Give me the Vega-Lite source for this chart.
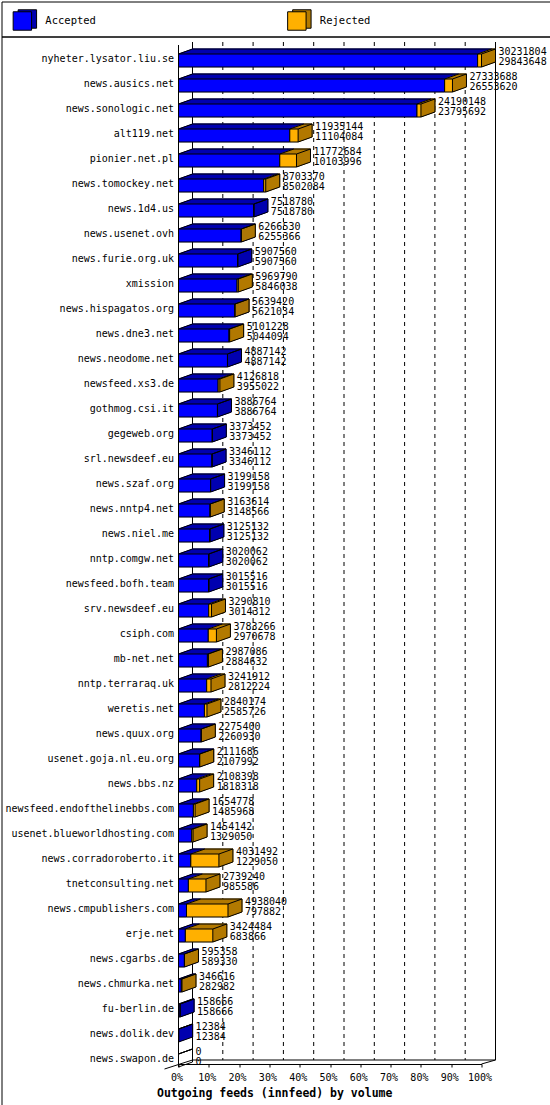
{
  "$schema": "https://vega.github.io/schema/vega-lite/v6.json",
  "background": "white",
  "padding": 0.5,
  "spacing": 0,
  "bounds": "flush",
  "config": {
    "font": "DejaVu Sans Mono",
    "view": {"stroke": "black", "strokeWidth": 1},
    "axis": {"labelFont": "DejaVu Sans Mono", "labelFontSize": 10, "labelColor": "black", "grid": false}
  },
  "vconcat": [
    {
      "width": 549,
      "height": 35,
      "data": {"values": [{"status": "Accepted"}, {"status": "Rejected"}]},
      "encoding": {
        "x": {"field": "status", "type": "nominal", "scale": {"type": "point", "padding": 0.5, "align": 0.076}, "axis": null}
      },
      "layer": [
        {
          "mark": {"type": "point", "shape": "square", "filled": true, "size": 340, "stroke": "black", "strokeWidth": 1, "opacity": 1, "xOffset": 5, "yOffset": 0},
          "encoding": {
            "fill": {"field": "status", "type": "nominal", "scale": {"domain": ["Accepted", "Rejected"], "range": ["#0000b0", "#b37a00"]}, "legend": null}
          }
        },
        {
          "mark": {"type": "point", "shape": "square", "filled": true, "size": 340, "stroke": "black", "strokeWidth": 1, "opacity": 1, "yOffset": 2},
          "encoding": {
            "color": {"field": "status", "type": "nominal", "scale": {"domain": ["Accepted", "Rejected"], "range": ["#0000ff", "#ffb000"]}, "legend": null}
          }
        },
        {
          "mark": {"type": "text", "align": "left", "dx": 23, "dy": 2, "fontSize": 10.5, "font": "DejaVu Sans Mono", "color": "black"},
          "encoding": {"text": {"field": "status"}}
        }
      ]
    },
    {
      "width": 549,
      "height": 1069,
      "data": {"values": [
        {"host": "nyheter.lysator.liu.se", "offered": 30231804, "accepted": 29843648},
        {"host": "news.ausics.net", "offered": 27333688, "accepted": 26553620},
        {"host": "news.sonologic.net", "offered": 24190148, "accepted": 23795692},
        {"host": "alt119.net", "offered": 11935144, "accepted": 11104084},
        {"host": "pionier.net.pl", "offered": 11772684, "accepted": 10103996},
        {"host": "news.tomockey.net", "offered": 8703370, "accepted": 8502084},
        {"host": "news.1d4.us", "offered": 7518780, "accepted": 7518780},
        {"host": "news.usenet.ovh", "offered": 6266530, "accepted": 6255366},
        {"host": "news.furie.org.uk", "offered": 5907560, "accepted": 5907560},
        {"host": "xmission", "offered": 5969790, "accepted": 5846038},
        {"host": "news.hispagatos.org", "offered": 5639420, "accepted": 5621034},
        {"host": "news.dne3.net", "offered": 5101228, "accepted": 5044094},
        {"host": "news.neodome.net", "offered": 4887142, "accepted": 4887142},
        {"host": "newsfeed.xs3.de", "offered": 4126818, "accepted": 3955022},
        {"host": "gothmog.csi.it", "offered": 3886764, "accepted": 3886764},
        {"host": "gegeweb.org", "offered": 3373452, "accepted": 3373452},
        {"host": "srl.newsdeef.eu", "offered": 3346112, "accepted": 3346112},
        {"host": "news.szaf.org", "offered": 3199158, "accepted": 3199158},
        {"host": "news.nntp4.net", "offered": 3163614, "accepted": 3148566},
        {"host": "news.niel.me", "offered": 3125132, "accepted": 3125132},
        {"host": "nntp.comgw.net", "offered": 3020062, "accepted": 3020062},
        {"host": "newsfeed.bofh.team", "offered": 3015516, "accepted": 3015516},
        {"host": "srv.newsdeef.eu", "offered": 3290810, "accepted": 3014312},
        {"host": "csiph.com", "offered": 3783266, "accepted": 2970678},
        {"host": "mb-net.net", "offered": 2987086, "accepted": 2884632},
        {"host": "nntp.terraraq.uk", "offered": 3241912, "accepted": 2812224},
        {"host": "weretis.net", "offered": 2840174, "accepted": 2585726},
        {"host": "news.quux.org", "offered": 2275400, "accepted": 2260930},
        {"host": "usenet.goja.nl.eu.org", "offered": 2111686, "accepted": 2107992},
        {"host": "news.bbs.nz", "offered": 2108398, "accepted": 1818318},
        {"host": "newsfeed.endofthelinebbs.com", "offered": 1654778, "accepted": 1485968},
        {"host": "usenet.blueworldhosting.com", "offered": 1454142, "accepted": 1329050},
        {"host": "news.corradoroberto.it", "offered": 4031492, "accepted": 1229050},
        {"host": "tnetconsulting.net", "offered": 2739240, "accepted": 985586},
        {"host": "news.cmpublishers.com", "offered": 4938040, "accepted": 797882},
        {"host": "erje.net", "offered": 3424484, "accepted": 683866},
        {"host": "news.cgarbs.de", "offered": 595358, "accepted": 589330},
        {"host": "news.chmurka.net", "offered": 346616, "accepted": 282982},
        {"host": "fu-berlin.de", "offered": 158666, "accepted": 158666},
        {"host": "news.dolik.dev", "offered": 12384, "accepted": 12384},
        {"host": "news.swapon.de", "offered": 0, "accepted": 0}
      ]},
      "resolve": {"scale": {"x": "independent"}},
      "encoding": {
        "y": {
          "field": "host", "type": "nominal", "sort": null,
          "scale": {
            "domain": ["nyheter.lysator.liu.se", "news.ausics.net", "news.sonologic.net", "alt119.net", "pionier.net.pl", "news.tomockey.net", "news.1d4.us", "news.usenet.ovh", "news.furie.org.uk", "xmission", "news.hispagatos.org", "news.dne3.net", "news.neodome.net", "newsfeed.xs3.de", "gothmog.csi.it", "gegeweb.org", "srl.newsdeef.eu", "news.szaf.org", "news.nntp4.net", "news.niel.me", "nntp.comgw.net", "newsfeed.bofh.team", "srv.newsdeef.eu", "csiph.com", "mb-net.net", "nntp.terraraq.uk", "weretis.net", "news.quux.org", "usenet.goja.nl.eu.org", "news.bbs.nz", "newsfeed.endofthelinebbs.com", "usenet.blueworldhosting.com", "news.corradoroberto.it", "tnetconsulting.net", "news.cmpublishers.com", "erje.net", "news.cgarbs.de", "news.chmurka.net", "fu-berlin.de", "news.dolik.dev", "news.swapon.de"],
            "paddingInner": 0.24, "paddingOuter": 1, "align": 0.29
          },
          "axis": {"orient": "left", "offset": -177, "domain": false, "ticks": false, "labelPadding": 5, "labelOffset": -2, "labelLimit": 250, "title": null}
        }
      },
      "layer": [
        {
          "data": {"values": [{"pct": 0}, {"pct": 10}, {"pct": 20}, {"pct": 30}, {"pct": 40}, {"pct": 50}, {"pct": 60}, {"pct": 70}, {"pct": 80}, {"pct": 90}, {"pct": 100}]},
          "encoding": {
            "x": {
              "field": "pct", "type": "quantitative",
              "scale": {"domain": [0, 100], "range": [177, 480]},
              "axis": {
                "orient": "bottom", "offset": -41.5, "values": [0, 10, 20, 30, 40, 50, 60, 70, 80, 90, 100],
                "labelExpr": "datum.value + '%'", "labelOffset": -2, "labelPadding": 5, "labelOverlap": false, "labelFlush": false,
                "domainColor": "black", "tickColor": "black", "tickSize": 3,
                "title": "Outgoing feeds (innfeed) by volume", "titleFont": "DejaVu Sans Mono", "titleFontWeight": "bold",
                "titleFontSize": 11.5, "titleColor": "black", "titleAlign": "left", "titleBaseline": "middle",
                "titleX": 155, "titleY": 29, "titleAngle": 0
              }
            }
          },
          "layer": [
            {
              "transform": [{"filter": "datum.pct > 0 && datum.pct < 100"}],
              "mark": {"type": "rule", "color": "black", "strokeDash": [4, 4], "xOffset": 14, "yOffset": -18.5, "y2Offset": -0.5},
              "encoding": {
                "y": {"datum": "nyheter.lysator.liu.se", "type": "nominal"},
                "y2": {"datum": "news.swapon.de"}
              }
            },
            {
              "transform": [{"filter": "datum.pct == 0 || datum.pct == 100"}],
              "mark": {"type": "rule", "color": "black", "xOffset": 14, "yOffset": -18.5, "y2Offset": -0.5},
              "encoding": {
                "y": {"datum": "nyheter.lysator.liu.se", "type": "nominal"},
                "y2": {"datum": "news.swapon.de"}
              }
            },
            {
              "transform": [{"filter": "datum.pct == 0"}],
              "mark": {"type": "rule", "color": "black", "xOffset": 14, "x2Offset": 14, "yOffset": -0.5},
              "encoding": {
                "x2": {"datum": 100},
                "y": {"datum": "news.swapon.de", "type": "nominal"}
              }
            },
            {
              "transform": [{"filter": "datum.pct == 0"}],
              "mark": {"type": "rule", "color": "black", "xOffset": -14, "x2Offset": 14, "yOffset": 8.5, "y2Offset": -0.5},
              "encoding": {
                "x2": {"field": "pct"},
                "y": {"datum": "news.swapon.de", "type": "nominal"},
                "y2": {"datum": "news.swapon.de"}
              }
            },
            {
              "transform": [{"filter": "datum.pct == 100"}],
              "mark": {"type": "rule", "color": "black", "xOffset": 0, "x2Offset": 14, "yOffset": 3.5, "y2Offset": -0.5},
              "encoding": {
                "x2": {"field": "pct"},
                "y": {"datum": "news.swapon.de", "type": "nominal"},
                "y2": {"datum": "news.swapon.de"}
              }
            },
            {
              "transform": [{"filter": "datum.pct == 0"}],
              "mark": {"type": "rule", "color": "black", "yOffset": -15.5, "y2Offset": 3.5},
              "encoding": {
                "y": {"datum": "nyheter.lysator.liu.se", "type": "nominal"},
                "y2": {"datum": "news.swapon.de"}
              }
            }
          ]
        },
        {
          "encoding": {
            "x": {"field": "accepted", "type": "quantitative", "scale": {"domain": [0, 30231804], "range": [177, 480]}, "axis": null}
          },
          "layer": [
            {
              "encoding": {"strokeWidth": {"condition": {"test": "datum.accepted > 0", "value": 1}, "value": 0}},
              "layer": [
                {"mark": {"type": "bar", "size": 13, "fill": "#0000b0", "stroke": "#0000b0", "xOffset": 14, "x2Offset": 14, "yOffset": -5}},
                {"mark": {"type": "bar", "size": 13, "fill": "#0000b0", "stroke": "#0000b0", "xOffset": 13, "x2Offset": 13, "yOffset": -4.64}},
                {"mark": {"type": "bar", "size": 13, "fill": "#0000b0", "stroke": "#0000b0", "xOffset": 12, "x2Offset": 12, "yOffset": -4.29}},
                {"mark": {"type": "bar", "size": 13, "fill": "#0000b0", "stroke": "#0000b0", "xOffset": 11, "x2Offset": 11, "yOffset": -3.93}},
                {"mark": {"type": "bar", "size": 13, "fill": "#0000b0", "stroke": "#0000b0", "xOffset": 10, "x2Offset": 10, "yOffset": -3.57}},
                {"mark": {"type": "bar", "size": 13, "fill": "#0000b0", "stroke": "#0000b0", "xOffset": 9, "x2Offset": 9, "yOffset": -3.21}},
                {"mark": {"type": "bar", "size": 13, "fill": "#0000b0", "stroke": "#0000b0", "xOffset": 8, "x2Offset": 8, "yOffset": -2.86}},
                {"mark": {"type": "bar", "size": 13, "fill": "#0000b0", "stroke": "#0000b0", "xOffset": 7, "x2Offset": 7, "yOffset": -2.5}},
                {"mark": {"type": "bar", "size": 13, "fill": "#0000b0", "stroke": "#0000b0", "xOffset": 6, "x2Offset": 6, "yOffset": -2.14}},
                {"mark": {"type": "bar", "size": 13, "fill": "#0000b0", "stroke": "#0000b0", "xOffset": 5, "x2Offset": 5, "yOffset": -1.79}},
                {"mark": {"type": "bar", "size": 13, "fill": "#0000b0", "stroke": "#0000b0", "xOffset": 4, "x2Offset": 4, "yOffset": -1.43}},
                {"mark": {"type": "bar", "size": 13, "fill": "#0000b0", "stroke": "#0000b0", "xOffset": 3, "x2Offset": 3, "yOffset": -1.07}},
                {"mark": {"type": "bar", "size": 13, "fill": "#0000b0", "stroke": "#0000b0", "xOffset": 2, "x2Offset": 2, "yOffset": -0.71}},
                {"mark": {"type": "bar", "size": 13, "fill": "#0000b0", "stroke": "#0000b0", "xOffset": 1, "x2Offset": 1, "yOffset": -0.36}}
              ]
            },
            {"mark": {"type": "bar", "size": 13, "fill": "#0000ff", "stroke": "black", "strokeWidth": 1}},
            {
              "encoding": {
                "x2": {"field": "offered"},
                "strokeWidth": {"condition": {"test": "datum.offered > datum.accepted", "value": 1}, "value": 0}
              },
              "layer": [
                {"mark": {"type": "bar", "size": 13, "fill": "#b37a00", "stroke": "#b37a00", "xOffset": 14, "x2Offset": 14, "yOffset": -5}},
                {"mark": {"type": "bar", "size": 13, "fill": "#b37a00", "stroke": "#b37a00", "xOffset": 13, "x2Offset": 13, "yOffset": -4.64}},
                {"mark": {"type": "bar", "size": 13, "fill": "#b37a00", "stroke": "#b37a00", "xOffset": 12, "x2Offset": 12, "yOffset": -4.29}},
                {"mark": {"type": "bar", "size": 13, "fill": "#b37a00", "stroke": "#b37a00", "xOffset": 11, "x2Offset": 11, "yOffset": -3.93}},
                {"mark": {"type": "bar", "size": 13, "fill": "#b37a00", "stroke": "#b37a00", "xOffset": 10, "x2Offset": 10, "yOffset": -3.57}},
                {"mark": {"type": "bar", "size": 13, "fill": "#b37a00", "stroke": "#b37a00", "xOffset": 9, "x2Offset": 9, "yOffset": -3.21}},
                {"mark": {"type": "bar", "size": 13, "fill": "#b37a00", "stroke": "#b37a00", "xOffset": 8, "x2Offset": 8, "yOffset": -2.86}},
                {"mark": {"type": "bar", "size": 13, "fill": "#b37a00", "stroke": "#b37a00", "xOffset": 7, "x2Offset": 7, "yOffset": -2.5}},
                {"mark": {"type": "bar", "size": 13, "fill": "#b37a00", "stroke": "#b37a00", "xOffset": 6, "x2Offset": 6, "yOffset": -2.14}},
                {"mark": {"type": "bar", "size": 13, "fill": "#b37a00", "stroke": "#b37a00", "xOffset": 5, "x2Offset": 5, "yOffset": -1.79}},
                {"mark": {"type": "bar", "size": 13, "fill": "#b37a00", "stroke": "#b37a00", "xOffset": 4, "x2Offset": 4, "yOffset": -1.43}},
                {"mark": {"type": "bar", "size": 13, "fill": "#b37a00", "stroke": "#b37a00", "xOffset": 3, "x2Offset": 3, "yOffset": -1.07}},
                {"mark": {"type": "bar", "size": 13, "fill": "#b37a00", "stroke": "#b37a00", "xOffset": 2, "x2Offset": 2, "yOffset": -0.71}},
                {"mark": {"type": "bar", "size": 13, "fill": "#b37a00", "stroke": "#b37a00", "xOffset": 1, "x2Offset": 1, "yOffset": -0.36}}
              ]
            },
            {"mark": {"type": "bar", "size": 13, "fill": "#ffb000", "stroke": "black", "strokeWidth": 1}, "encoding": {"x2": {"field": "offered"}}},
            {
              "mark": {"type": "rule", "color": "black", "strokeWidth": 1, "xOffset": 14, "x2Offset": 14, "yOffset": -11.5},
              "encoding": {"x": {"field": "offered", "type": "quantitative"}, "x2": {"datum": 0}}
            },
            {
              "mark": {"type": "rule", "color": "black", "strokeWidth": 1, "x2Offset": 14, "yOffset": -6.5, "y2Offset": -11.5},
              "encoding": {"x": {"datum": 0}, "x2": {"datum": 0}, "y2": {"field": "host"}}
            },
            {
              "mark": {"type": "rule", "color": "black", "strokeWidth": 1, "x2Offset": 14, "yOffset": -6.5, "y2Offset": -11.5},
              "encoding": {"x2": {"field": "accepted"}, "y2": {"field": "host"}}
            },
            {
              "mark": {"type": "rule", "color": "black", "strokeWidth": 1, "x2Offset": 14, "yOffset": -6.5, "y2Offset": -11.5},
              "encoding": {"x": {"field": "offered", "type": "quantitative"}, "x2": {"field": "offered"}, "y2": {"field": "host"}}
            },
            {
              "mark": {"type": "rule", "color": "black", "strokeWidth": 1, "x2Offset": 14, "yOffset": 6.5, "y2Offset": 1.5},
              "encoding": {"x": {"field": "offered", "type": "quantitative"}, "x2": {"field": "offered"}, "y2": {"field": "host"}}
            },
            {
              "mark": {"type": "rule", "color": "black", "strokeWidth": 1, "xOffset": 14, "yOffset": -11.5, "y2Offset": 1.5},
              "encoding": {"x": {"field": "offered", "type": "quantitative"}, "y2": {"field": "host"}}
            },
            {
              "mark": {"type": "text", "align": "left", "baseline": "middle", "dx": 17, "dy": -8.5, "font": "DejaVu Sans Mono", "fontSize": 10, "color": "black"},
              "encoding": {"x": {"field": "offered", "type": "quantitative"}, "text": {"field": "offered", "type": "quantitative", "format": "d"}}
            },
            {
              "mark": {"type": "text", "align": "left", "baseline": "middle", "dx": 17, "dy": 1.5, "font": "DejaVu Sans Mono", "fontSize": 10, "color": "black"},
              "encoding": {"x": {"field": "offered", "type": "quantitative"}, "text": {"field": "accepted", "type": "quantitative", "format": "d"}}
            }
          ]
        }
      ]
    }
  ]
}
